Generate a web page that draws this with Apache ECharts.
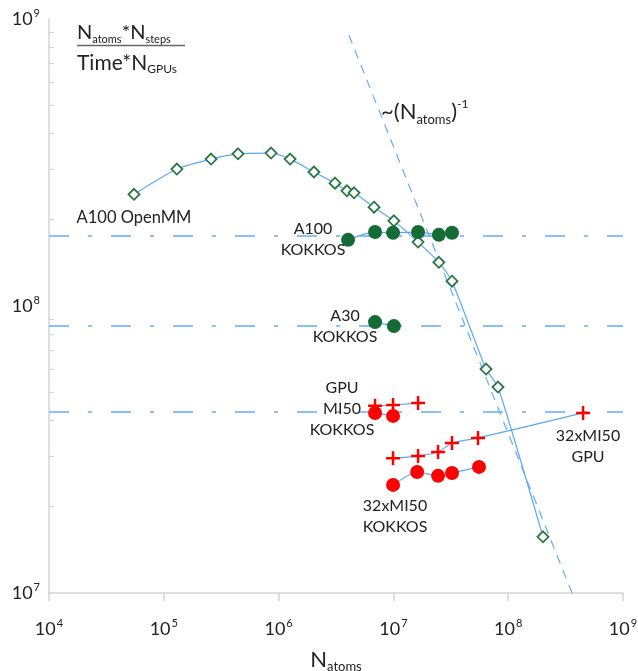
<!DOCTYPE html>
<html><head><meta charset="utf-8">
<script src="https://cdn.jsdelivr.net/npm/echarts@6/dist/echarts.min.js"></script>
<style>html,body{margin:0;padding:0;background:#fff}#c{width:638px;height:671px}</style>
</head><body><div id="c"></div>
<script>
const FONT = 'Lato';
const BLUE = '#5aa7fb';
const DASHBLUE = '#62adfb';
const GREEN_EDGE = '#2b7742';
const GREEN = '#146b35';
const RED = '#ff0000';

// A100 OpenMM (diamonds)
const openmmX = [5.5e4, 1.3e5, 2.58e5, 4.43e5, 8.6e5, 1.26e6, 2.03e6, 3.1e6, 3.94e6, 4.54e6, 6.78e6, 1.01e7, 1.64e7, 2.49e7, 3.24e7, 6.41e7, 8.15e7, 2.01e8];
const openmmY = [2.45e8, 3.0e8, 3.25e8, 3.39e8, 3.41e8, 3.25e8, 2.93e8, 2.68e8, 2.52e8, 2.48e8, 2.21e8, 1.98e8, 1.67e8, 1.42e8, 1.22e8, 6.03e7, 5.22e7, 1.57e7];
// A100 KOKKOS
const a100kX = [4.03e6, 6.92e6, 9.93e6, 1.64e7, 2.49e7, 3.24e7];
const a100kY = [1.70e8, 1.81e8, 1.80e8, 1.81e8, 1.77e8, 1.80e8];
// A30 KOKKOS
const a30kX = [6.92e6, 1.01e7];
const a30kY = [8.79e7, 8.51e7];
// GPU MI50 (crosses)
const mi50gX = [6.92e6, 9.93e6, 1.64e7];
const mi50gY = [4.49e7, 4.52e7, 4.59e7];
// MI50 KOKKOS (red circles)
const mi50kX = [6.92e6, 9.93e6];
const mi50kY = [4.24e7, 4.14e7];
// 32xMI50 GPU (crosses)
const x32gX = [9.93e6, 1.64e7, 2.45e7, 3.24e7, 5.46e7, 4.49e8];
const x32gY = [2.95e7, 3.0e7, 3.10e7, 3.33e7, 3.47e7, 4.24e7];
// 32xMI50 KOKKOS (red circles)
const x32kX = [9.93e6, 1.61e7, 2.45e7, 3.24e7, 5.57e7];
const x32kY = [2.38e7, 2.64e7, 2.56e7, 2.62e7, 2.75e7];
// ~(Natoms)^-1 reference line endpoints
const refX = [4.1e6, 3.6e8];
const refY = [8.78e8, 1.0e7];
// horizontal reference levels
const hLevels = [1.75e8, 8.53e7, 4.29e7];
// axis ticks
const xTicks = [1e4, 1e5, 1e6, 1e7, 1e8, 1e9];
const yLabels = [1e7, 1e8, 1e9];
const yMinor = [2e7,3e7,4e7,5e7,6e7,7e7,8e7,9e7,2e8,3e8,4e8,5e8,6e8,7e8,8e8,9e8];

const zip = (a, b) => a.map((v, i) => [v, b[i]]);
const PLUS = 'path://M6,0h2.6v6h6v2.6h-6v6h-2.6v-6h-6v-2.6h6z';
const powFmt = v => '{b|10}{s|' + Math.round(Math.log10(v)) + '}';
const powRich = {
  b: {fontFamily: FONT, fontSize: 18, color: '#222', lineHeight: 22},
  s: {fontFamily: FONT, fontSize: 11, color: '#222', verticalAlign: 'top', lineHeight: 22, padding: [0,0,8,1]}
};

function lineSeries(name, data, sym, size, itemStyle, smooth) {
  return {
    name, type: 'line', data, symbol: sym, symbolSize: size, showSymbol: true,
    smooth: smooth, itemStyle, lineStyle: {color: BLUE, width: 1.2}, z: 5
  };
}

const chart = echarts.init(document.getElementById('c'), null, {renderer: 'canvas'});
const txt = {fontFamily: FONT, fontSize: 16, fill: '#222', align: 'center', verticalAlign: 'middle', lineHeight: 21};
function label(text, x, y, extra) {
  return {type: 'text', x, y, z: 20, style: Object.assign({}, txt, {text}, extra || {})};
}

chart.setOption({
  animation: false,
  backgroundColor: '#fff',
  grid: {left: 49, right: 15, top: 19, bottom: 78, containLabel: false, outerBoundsMode: 'none'},
  xAxis: {
    type: 'log', logBase: 10, min: 1e4, max: 1e9,
    name: '{N|N}{s|atoms}', nameLocation: 'middle', nameGap: 54,
    nameTextStyle: {rich: {
      N: {fontFamily: FONT, fontSize: 22, color: '#222', lineHeight: 26},
      s: {fontFamily: FONT, fontSize: 13, color: '#222', verticalAlign: 'bottom', lineHeight: 22}
    }},
    axisLine: {lineStyle: {color: '#d4d4d4', width: 1.5}},
    axisTick: {show: true, customValues: xTicks, length: 8, lineStyle: {color: '#d4d4d4', width: 1.5}},
    axisLabel: {customValues: xTicks, formatter: powFmt, rich: powRich, margin: 25},
    splitLine: {show: false}, minorTick: {show: false}
  },
  yAxis: {
    type: 'log', logBase: 10, min: 1e7, max: 1e9,
    axisLine: {show: true, lineStyle: {color: '#d4d4d4', width: 1.5}},
    axisTick: {show: true, inside: true, customValues: yMinor, length: 5, lineStyle: {color: '#d4d4d4', width: 1.2}},
    axisLabel: {customValues: yLabels, formatter: powFmt, rich: powRich, margin: 9},
    splitLine: {show: false}
  },
  series: [
    {
      name: 'ref', type: 'line', data: zip(refX, refY), symbol: 'none', z: 3,
      lineStyle: {color: DASHBLUE, width: 1.2, type: [9, 7]},
      markLine: {
        silent: true, symbol: 'none', label: {show: false},
        lineStyle: {color: DASHBLUE, width: 1.6, type: [20, 19, 4, 19]},
        data: hLevels.map(v => ({yAxis: v}))
      }
    },
    lineSeries('A100 OpenMM', zip(openmmX, openmmY), 'diamond', 11,
      {color: '#fff', borderColor: GREEN_EDGE, borderWidth: 1.8}, 0.2),
    lineSeries('A100 KOKKOS', zip(a100kX, a100kY), 'circle', 14, {color: GREEN}, 0.3),
    lineSeries('A30 KOKKOS', zip(a30kX, a30kY), 'circle', 14, {color: GREEN}, 0),
    lineSeries('GPU MI50', zip(mi50gX, mi50gY), PLUS, 14, {color: RED}, 0),
    lineSeries('MI50 KOKKOS', zip(mi50kX, mi50kY), 'circle', 14, {color: RED}, 0),
    lineSeries('32xMI50 GPU', zip(x32gX, x32gY), PLUS, 14, {color: RED}, 0.2),
    lineSeries('32xMI50 KOKKOS', zip(x32kX, x32kY), 'circle', 14, {color: RED}, 0.2)
  ],
  graphic: [
    {type: 'text', x: 77, y: 33, z: 20, style: {
      text: '{N|N}{s|atoms}{N|*N}{s|steps}', verticalAlign: 'middle', align: 'left',
      rich: {
        N: {fontFamily: FONT, fontSize: 20, fill: '#222', lineHeight: 24, fontWeight: 'normal'},
        s: {fontFamily: FONT, fontSize: 11, fill: '#222', verticalAlign: 'bottom', lineHeight: 22}
      }}},
    {type: 'line', z: 20, shape: {x1: 77, y1: 45.5, x2: 185, y2: 45.5}, style: {stroke: '#666', lineWidth: 1.6}},
    {type: 'text', x: 77, y: 63, z: 20, style: {
      text: '{N|Time*N}{s|GPUs}', verticalAlign: 'middle', align: 'left',
      rich: {
        N: {fontFamily: FONT, fontSize: 21, fill: '#222', lineHeight: 24},
        s: {fontFamily: FONT, fontSize: 12, fill: '#222', verticalAlign: 'bottom', lineHeight: 20}
      }}},
    {type: 'text', x: 381, y: 112, z: 20, style: {
      text: '{N|~(N}{s|atoms}{N|)}{p|-1}', verticalAlign: 'middle', align: 'left',
      rich: {
        N: {fontFamily: FONT, fontSize: 22, fill: '#222', lineHeight: 28},
        s: {fontFamily: FONT, fontSize: 13, fill: '#222', verticalAlign: 'bottom', lineHeight: 24},
        p: {fontFamily: FONT, fontSize: 12, fill: '#222', verticalAlign: 'top', lineHeight: 26}
      }}},
    label('A100 OpenMM', 134, 218, {fontSize: 16.5}),
    label('A100\nKOKKOS', 313, 239),
    label('A30\nKOKKOS', 345, 326),
    label('GPU\nMI50\nKOKKOS', 342, 409),
    label('32xMI50\nKOKKOS', 395, 516),
    label('32xMI50\nGPU', 588, 446)
  ]
});
</script></body></html>
